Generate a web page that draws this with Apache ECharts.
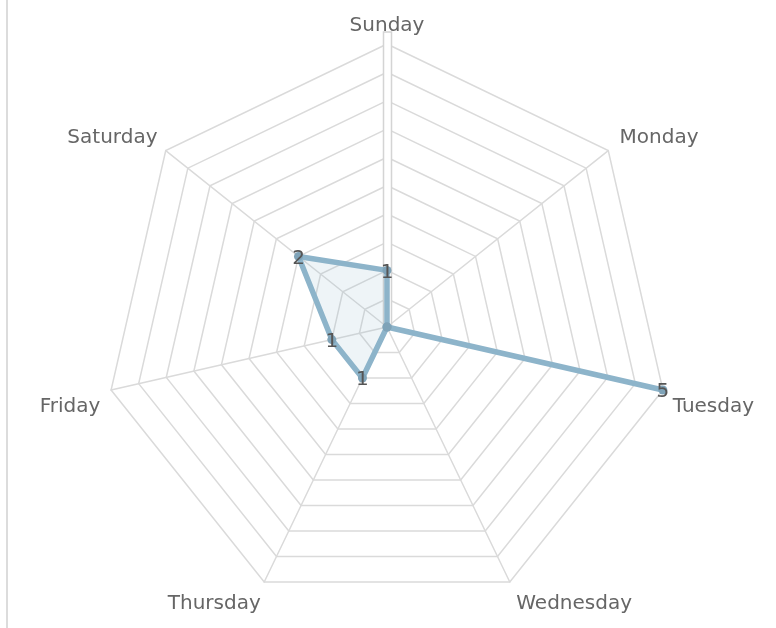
<!DOCTYPE html>
<html><head><meta charset="utf-8">
<script src="https://cdn.jsdelivr.net/npm/echarts@6/dist/echarts.min.js"></script>
<style>html,body{margin:0;padding:0;background:#fff}#c{width:776px;height:628px}</style>
</head><body><div id="c"></div>
<script>
// Data (days in clockwise order starting at top)
var days = ['Sunday','Monday','Tuesday','Wednesday','Thursday','Friday','Saturday'];
var values = [1, 0, 5, 0, 1, 1, 2];
var maxValue = 5;

// ECharts radar lays indicators counterclockwise; reorder so visual order is clockwise
var order = [0,6,5,4,3,2,1];
var indicator = order.map(function(i){ return {name: days[i], max: maxValue}; });
var seriesData = order.map(function(i){ return values[i]; });

// label nudges (padding) per day name
var namePad = {
  Sunday: [0,0,0,0],
  Monday: [0,0,16,5],
  Tuesday: [30,0,0,2],
  Wednesday: [30,0,0,3],
  Thursday: [30,0,0,0],
  Friday: [30,3,0,0],
  Saturday: [0,2,16,0]
};
var rich = {};
days.forEach(function(d){ rich[d] = {padding: namePad[d], color:'#666', fontSize:20, fontFamily:'DejaVu Sans'}; });

var chart = echarts.init(document.getElementById('c'), null, {renderer:'canvas'});
chart.setOption({
  animation: false,
  graphic: [
    {type:'rect', z: 0, shape:{x:6, y:0, width:2, height:628}, style:{fill:'#dcdcdc'}},
    {type:'rect', z: 50, shape:{x:383.5, y:32, width:8, height:295}, style:{fill:'#fff', stroke:'#d4d4d4', lineWidth:1.5}}
  ],
  radar: {
    center: [387, 327],
    radius: 283,
    startAngle: 90,
    splitNumber: 10,
    shape: 'polygon',
    indicator: indicator,
    axisName: {
      color:'#666', fontSize:20, fontFamily:'DejaVu Sans',
      formatter: function(name){ return '{' + name + '|' + name + '}'; },
      rich: rich
    },
    nameGap: 8,
    axisLine: {lineStyle:{color:'#dadada', width:1.5}},
    splitLine: {lineStyle:{color:'#dadada', width:1.5}},
    splitArea: {show:false},
    axisTick: {show:false},
    axisLabel: {show:false},
    z: 2
  },
  series: [{
    type: 'radar',
    z: 60,
    symbol: 'circle',
    symbolSize: 9,
    itemStyle: {color:'#7fa3b8'},
    lineStyle: {color:'#8db4ca', width:5.5},
    areaStyle: {color:'rgba(141,180,202,0.22)'},
    label: {
      show: true,
      position: 'inside',
      color: '#555',
      fontSize: 20,
      fontFamily: 'DejaVu Sans',
      offset: [0, 2],
      formatter: function(p){ return p.value === 0 ? '' : String(p.value); }
    },
    data: [{value: seriesData}]
  }]
});
</script></body></html>
